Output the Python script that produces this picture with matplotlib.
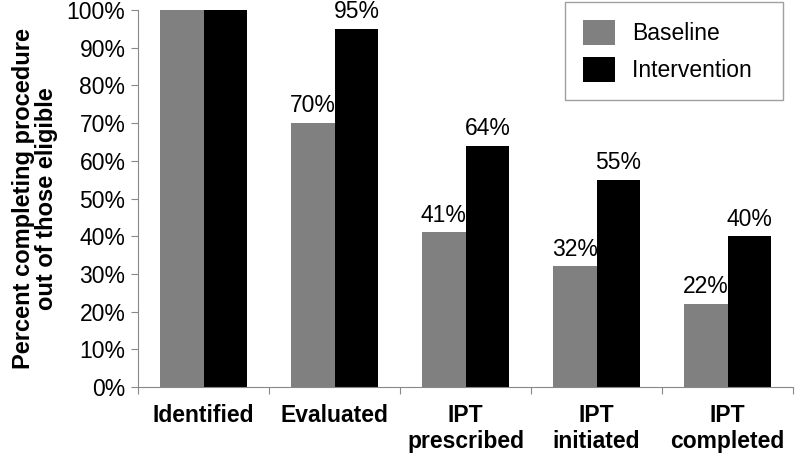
import matplotlib.pyplot as plt
import numpy as np

categories = ['Identified', 'Evaluated', 'IPT\nprescribed', 'IPT\ninitiated', 'IPT\ncompleted']
baseline = [100, 70, 41, 32, 22]
intervention = [100, 95, 64, 55, 40]
show_label = [False, True, True, True, True]

plt.rcParams['font.family'] = ['Liberation Sans', 'DejaVu Sans']

fig = plt.figure(figsize=(8, 4.58), dpi=100)
ax = fig.add_axes([138/800, 1-387/458, (793-138)/800, 377/458])

x = np.arange(len(categories))
w = 0.335
b1 = ax.bar(x - w/2, baseline, w, color='#808080', label='Baseline')
b2 = ax.bar(x + w/2, intervention, w, color='#000000', label='Intervention')

# value labels above bars (skip the 100% pair)
for i in range(len(categories)):
    if not show_label[i]:
        continue
    ax.text(x[i] - w/2, baseline[i] + 1.5, f'{baseline[i]}%', ha='center', va='bottom', fontsize=16.5)
    ax.text(x[i] + w/2, intervention[i] + 1.5, f'{intervention[i]}%', ha='center', va='bottom', fontsize=16.5)

ax.set_xlim(-0.5, len(categories) - 0.5)
ax.set_ylim(0, 100)
ax.set_yticks(range(0, 101, 10))
ax.set_yticklabels([f'{v}%' for v in range(0, 101, 10)], fontsize=16.5)

# ticks on category boundaries, labels at centers
ax.set_xticks(np.arange(-0.5, len(categories), 1))
ax.set_xticklabels([])
ax.set_xticks(x, minor=True)
ax.set_xticklabels(categories, minor=True, fontsize=16.5, fontweight='bold')
ax.tick_params(axis='x', which='minor', length=0, pad=12)
ax.tick_params(axis='x', which='major', length=5, color='#888888')
ax.tick_params(axis='y', length=5, color='#888888', pad=4)

for s in ['top', 'right']:
    ax.spines[s].set_visible(False)
for s in ['left', 'bottom']:
    ax.spines[s].set_color('#888888')

ax.set_ylabel('Percent completing procedure\nout of those eligible', fontsize=17, fontweight='bold',
              labelpad=6, linespacing=1.05)

leg = fig.legend(handles=[b1, b2], labels=['Baseline', 'Intervention  '],
                 loc='upper right', bbox_to_anchor=(783/800, 1 - 2/458),
                 fontsize=16.5, frameon=True, fancybox=False, edgecolor='#888888',
                 handlelength=1.4, handleheight=1.3, borderpad=0.8, labelspacing=0.5,
                 handletextpad=0.75, borderaxespad=0)
leg.get_frame().set_linewidth(1.0)

fig.savefig('out.png', dpi=100)
